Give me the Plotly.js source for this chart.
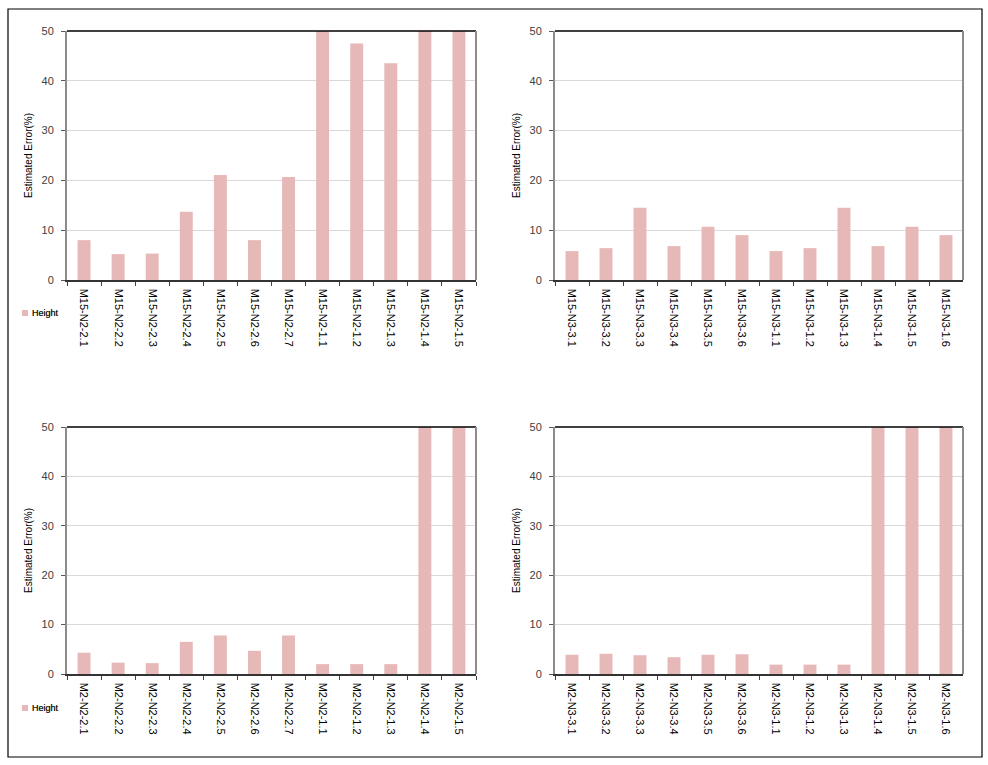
<!DOCTYPE html>
<html>
<head>
<meta charset="utf-8">
<script src="https://cdn.plot.ly/plotly-3.0.1.min.js"></script>
<style>html,body{margin:0;padding:0;background:#fff;}#chart{width:988px;height:765px;}</style>
</head>
<body>
<div id="chart"></div>
<script>
// ---- data ----
const catsA = ["M15-N2-2.1","M15-N2-2.2","M15-N2-2.3","M15-N2-2.4","M15-N2-2.5","M15-N2-2.6","M15-N2-2.7","M15-N2-1.1","M15-N2-1.2","M15-N2-1.3","M15-N2-1.4","M15-N2-1.5"];
const valsA = [8.0, 5.2, 5.3, 13.7, 21.1, 8.0, 20.7, 50, 47.5, 43.5, 50, 50];

const catsB = ["M15-N3-3.1","M15-N3-3.2","M15-N3-3.3","M15-N3-3.4","M15-N3-3.5","M15-N3-3.6","M15-N3-1.1","M15-N3-1.2","M15-N3-1.3","M15-N3-1.4","M15-N3-1.5","M15-N3-1.6"];
const valsB = [5.8, 6.4, 14.5, 6.8, 10.7, 9.0, 5.8, 6.4, 14.5, 6.8, 10.7, 9.0];

const catsC = ["M2-N2-2.1","M2-N2-2.2","M2-N2-2.3","M2-N2-2.4","M2-N2-2.5","M2-N2-2.6","M2-N2-2.7","M2-N2-1.1","M2-N2-1.2","M2-N2-1.3","M2-N2-1.4","M2-N2-1.5"];
const valsC = [4.3, 2.3, 2.2, 6.5, 7.8, 4.7, 7.8, 2.0, 2.0, 2.0, 50, 50];

const catsD = ["M2-N3-3.1","M2-N3-3.2","M2-N3-3.3","M2-N3-3.4","M2-N3-3.5","M2-N3-3.6","M2-N3-1.1","M2-N3-1.2","M2-N3-1.3","M2-N3-1.4","M2-N3-1.5","M2-N3-1.6"];
const valsD = [3.9, 4.1, 3.8, 3.4, 3.9, 4.0, 1.9, 1.9, 1.9, 50, 50, 50];

const seriesName = "Height";
const yTickVals = [0, 10, 20, 30, 40, 50];
const yTitle = "Estimated Error(%)";

// ---- style ----
const W = 988, H = 765;
const barColor = "#e6b9b8";
const font = "Liberation Sans, Arial, sans-serif";
const px = v => v / W;
const py = v => 1 - v / H;

const panels = [
  {cats: catsA, vals: valsA, x0: 67, x1: 476, yTop: 31, yBot: 280, legY: 313},
  {cats: catsB, vals: valsB, x0: 555, x1: 963, yTop: 31, yBot: 280, legY: 313},
  {cats: catsC, vals: valsC, x0: 67, x1: 476, yTop: 427, yBot: 674, legY: 708},
  {cats: catsD, vals: valsD, x0: 555, x1: 963, yTop: 427, yBot: 674, legY: 708}
];

const data = [];
const layout = {
  width: W, height: H,
  margin: {l: 0, r: 0, t: 0, b: 0},
  paper_bgcolor: "#fff", plot_bgcolor: "#fff",
  font: {family: font, size: 11, color: "#404040"},
  bargap: 0.62,
  shapes: [],
  annotations: [],
  showlegend: false
};

panels.forEach((p, i) => {
  const n = i === 0 ? "" : String(i + 1);
  data.push({
    type: "bar",
    x: p.cats, y: p.vals,
    name: seriesName,
    xaxis: "x" + n, yaxis: "y" + n,
    marker: {color: barColor, line: {width: 0}},
    cliponaxis: true
  });
  layout["xaxis" + n] = {
    domain: [px(p.x0), px(p.x1)],
    anchor: "y" + n,
    type: "category",
    tickangle: 90,
    tickson: "boundaries",
    ticks: "outside", ticklen: 4, tickcolor: "#404040",
    ticklabelstandoff: 5,
    showline: true, linecolor: "#333333", linewidth: 1.5,
    showgrid: false, zeroline: false,
    tickfont: {family: font, size: 11, color: "#000"},
    fixedrange: true
  };
  layout["yaxis" + n] = {
    domain: [py(p.yBot), py(p.yTop)],
    anchor: "x" + n,
    range: [0, 50],
    tickvals: yTickVals,
    ticks: "outside", ticklen: 4, tickcolor: "#555",
    ticklabelstandoff: 5,
    showline: true, linecolor: "#8c8c8c", linewidth: 2,
    showgrid: true, gridcolor: "#d9d9d9", gridwidth: 1,
    zeroline: false,
    tickfont: {family: font, size: 11, color: "#404040"},
    title: {text: yTitle, font: {family: font, size: 10, color: "#000"}, standoff: 7},
    fixedrange: true
  };
  // legend (series key) drawn as swatch + label
  layout.shapes.push({type: "rect", xref: "paper", yref: "paper",
    x0: px(22), x1: px(28), y0: py(p.legY + 3), y1: py(p.legY - 3),
    line: {width: 0}, fillcolor: barColor});
  layout.annotations.push({xref: "paper", yref: "paper",
    x: px(30), y: py(p.legY), xanchor: "left", yanchor: "middle",
    text: seriesName, showarrow: false,
    font: {family: font, size: 9, color: "#222"}});
  // top border (black) and right border (gray) of plot area
  layout.shapes.push({type: "line", xref: "paper", yref: "paper",
    x0: px(p.x0), x1: px(p.x1), y0: py(p.yTop), y1: py(p.yTop),
    line: {color: "#000", width: 1.5}});
  layout.shapes.push({type: "line", xref: "paper", yref: "paper",
    x0: px(p.x1), x1: px(p.x1), y0: py(p.yTop), y1: py(p.yBot),
    line: {color: "#8c8c8c", width: 2}});
});

// outer frame
layout.shapes.push({type: "rect", xref: "paper", yref: "paper",
  x0: px(8), x1: px(982), y0: py(9), y1: py(757),
  line: {color: "#000", width: 1.2}, fillcolor: "rgba(0,0,0,0)"});

Plotly.newPlot("chart", data, layout, {displayModeBar: false, staticPlot: true});
</script>
</body>
</html>
